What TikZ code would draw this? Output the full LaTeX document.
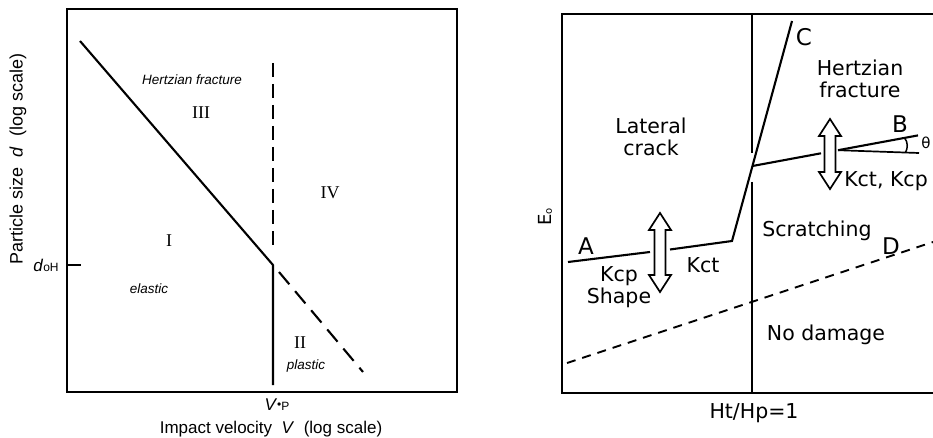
\documentclass[tikz,border=0pt]{standalone}
\usepackage{fontspec}
\setmainfont{Liberation Sans}
\newfontfamily\rfont{DejaVu Sans}
\newfontfamily\sfont{Liberation Serif}
\begin{document}
\begin{tikzpicture}[x=1pt,y=-1pt,
  frame/.style={line width=2pt},
  curve/.style={line width=2.1pt},
  thin curve/.style={line width=1.7pt},
  dashv/.style={line width=2.1pt, dash pattern=on 14pt off 7pt},
  dashd/.style={line width=2.1pt, dash pattern=on 16pt off 9pt},
  dashr/.style={line width=1.9pt, dash pattern=on 9pt off 7pt},
  hollow/.style={draw, fill=white, line width=1.7pt, line join=miter},
  ltxt/.style={inner sep=0pt, font=\fontsize{13.5}{15}\selectfont\itshape},
  axl/.style={inner sep=0pt, font=\fontsize{17}{19}\selectfont},
  roman/.style={inner sep=0pt, font=\sfont\fontsize{18}{20}\selectfont},
  rtxt/.style={inner sep=0pt, align=center, font=\rfont\fontsize{20.5}{21.5}\selectfont},
  rbig/.style={inner sep=0pt, font=\rfont\fontsize{23}{25}\selectfont}
]
\useasboundingbox (0,0) rectangle (933,438);

% ---------------- left panel ----------------
\coordinate (LTL) at (67,9);
\coordinate (LBR) at (457,392);
\draw[frame] (LTL) rectangle (LBR);

\coordinate (P0) at (80,41);
\coordinate (PK) at (273,265);
\coordinate (PB) at (273,385);
\coordinate (PD0) at (279,272);
\coordinate (PD1) at (363,372);
\coordinate (PV0) at (273,63);
\coordinate (PV1) at (273,245);
\coordinate (T0) at (67,265);
\coordinate (T1) at (81,265);

\draw[curve] (P0) -- (PK) -- (PB);
\draw[dashd] (PD0) -- (PD1);
\draw[dashv] (PV0) -- (PV1);
\draw[frame] (T0) -- (T1);

\node[ltxt] (hf) at (192,80) {Hertzian fracture};
\node[roman] (r3) at (201,113) {III};
\node[roman] (r4) at (330,193) {IV};
\node[roman] (r1) at (169,241) {I};
\node[ltxt] (el) at (149,289) {elastic};
\node[roman] (r2) at (300,343) {II};
\node[ltxt] (pl) at (306,366) {plastic};

\node[inner sep=0pt, font=\fontsize{17}{19}\selectfont] (doh) at (46,265)
  {\textit{d}{\fontsize{12}{13}\selectfont oH}};
\node[inner sep=0pt, font=\fontsize{17}{19}\selectfont] (vp) at (277,405)
  {\textit{V}{\fontsize{12}{13}\selectfont\raisebox{0.35ex}{\textbullet}P}};
\node[axl] (xl) at (271,429) {Impact velocity\ \ \textit{V}\ \ (log scale)};
\node[axl, rotate=90, font=\fontsize{18}{20}\selectfont] (yl) at (18,159) {Particle size\ \ \textit{d}\ \ (log scale)};

% ---------------- right panel ----------------
\coordinate (RTR) at (933,14);
\coordinate (RTL) at (562,14);
\coordinate (RBL) at (562,393);
\coordinate (RBR) at (933,393);
\draw[frame] (RTR) -- (RTL) -- (RBL) -- (RBR);

% vertical Ht/Hp = 1 line
\coordinate (V0) at (752,14);
\coordinate (V1) at (752,153);
\coordinate (V2) at (752,182);
\coordinate (V3) at (752,393);
\draw[thin curve] (V0) -- (V1);
\draw[thin curve] (V2) -- (V3);

% line A - kink - C
\coordinate (A0) at (568,262);
\coordinate (A1) at (650,252);
\coordinate (A2) at (670,249.5);
\coordinate (AK) at (732,241);
\coordinate (C1) at (792,21);
\draw[curve] (A0) -- (A1);
\draw[curve] (A2) -- (AK) -- (C1);

% line K - B
\coordinate (K) at (752.5,166);
\coordinate (B1) at (821,153.3);
\coordinate (B2) at (838,150.2);
\coordinate (B3) at (918,135.4);
\coordinate (H3) at (919,153);
\draw[curve] (K) -- (B1);
\draw[curve] (B2) -- (B3);
\draw[thin curve] (B2) -- (H3);
\draw[line width=1.5pt] (904.5,137.9) .. controls (908,142) and (908,148) .. (905.5,152.5);

% dashed threshold line
\coordinate (D0) at (567,363);
\coordinate (D1) at (933,242);
\draw[dashr] (D0) -- (D1);

% hollow double arrows
\newcommand\hollowarrow[3]{%
  \draw[hollow] (#1,#2) -- ({#1+11},{#2+17}) -- ({#1+5.5},{#2+17}) -- ({#1+5.5},{#3-17})
    -- ({#1+11},{#3-17}) -- (#1,#3) -- ({#1-11},{#3-17}) -- ({#1-5.5},{#3-17})
    -- ({#1-5.5},{#2+17}) -- ({#1-11},{#2+17}) -- cycle;}
\hollowarrow{660}{213}{292}
\hollowarrow{830}{119}{189}

% texts
\node[rtxt] (lc) at (651,137) {Lateral\\crack};
\node[rtxt] (hz) at (860,79) {Hertzian\\fracture};
\node[rtxt] (kk) at (886,181) {Kct, Kcp};
\node[rtxt] (sc) at (817,231) {Scratching};
\node[rtxt] (kct) at (703,265) {Kct};
\node[rtxt] (ks) at (619,287) {Kcp\\Shape};
\node[rtxt] (nd) at (826,335) {No damage};
\node[rtxt] (ht) at (754,413) {Ht/Hp=1};
\node[rbig] (lA) at (586,246) {A};
\node[rbig] (lB) at (900,124) {B};
\node[rbig] (lC) at (804,37) {C};
\node[rbig] (lD) at (891,246) {D};
\node[inner sep=0pt, font=\rfont\fontsize{15}{17}\selectfont] (th) at (926,143) {θ};
\node[inner sep=0pt, rotate=90, font=\rfont\fontsize{18}{20}\selectfont] (eo) at (545,217)
  {E{\fontsize{10}{10}\selectfont\raisebox{-0.15ex}{o}}};
\end{tikzpicture}
\end{document}
